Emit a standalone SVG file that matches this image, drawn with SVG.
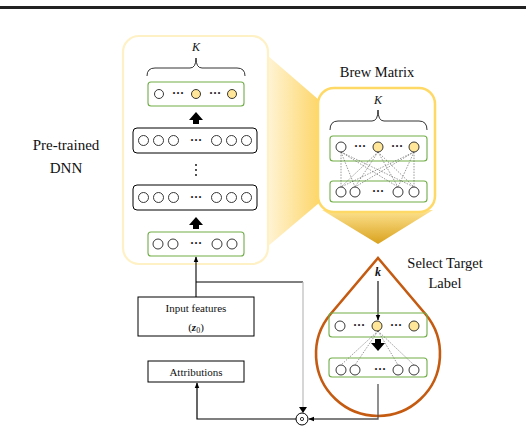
<svg xmlns="http://www.w3.org/2000/svg" width="526" height="426" viewBox="0 0 526 426">
<defs>
<linearGradient id="gL" x1="0" y1="0" x2="1" y2="0">
<stop offset="0" stop-color="#fff4d6"/><stop offset="1" stop-color="#fdd66a"/>
</linearGradient>
<linearGradient id="gB" x1="0" y1="0" x2="0" y2="1">
<stop offset="0" stop-color="#fee391"/><stop offset="1" stop-color="#d9a21e"/>
</linearGradient>
<marker id="ah" viewBox="0 0 10 10" refX="9" refY="5" markerWidth="6" markerHeight="6" orient="auto" markerUnits="userSpaceOnUse">
<path d="M0,1 L10,5 L0,9 Z" fill="#000"/>
</marker>
<path id="upArrow" d="M-7,4 L0,-4 L7,4 L3,4 L3,8 L-3,8 L-3,4 Z" fill="#000"/>
</defs>
<style>
text{font-family:"Liberation Serif","Times New Roman",serif;fill:#111}
.g{fill:none;stroke:#70ad47;stroke-width:1.1}
.b{fill:none;stroke:#000;stroke-width:1}
.c{fill:#fff;stroke:#222;stroke-width:0.9}
.y{fill:#ffe699;stroke:#222;stroke-width:0.9}
.d{stroke:#555;stroke-width:0.6;stroke-dasharray:1.5 1.3}
.br{fill:none;stroke:#000;stroke-width:0.8}
.w{fill:none;stroke:#000;stroke-width:1.1}
.dots{font-size:12px;font-weight:bold}
</style>

<rect x="0" y="6" width="526" height="3" fill="#222"/>

<g id="funnels">
<polygon points="267,55 319,100 319,203 267,247" fill="url(#gL)"/>
<polygon points="322,210 433,210 378,244" fill="url(#gB)"/>
</g>

<g id="pretrained-dnn" font-family="Liberation Serif, serif">
<rect x="123" y="36" width="145" height="228" rx="16" fill="#fff" stroke="#fff1c6" stroke-width="2.2"/>
<text x="196" y="51" font-size="12" font-style="italic" text-anchor="middle">K</text>
<path class="br" d="M147,76 Q147,68 155,68 L190,68 Q196,68 196,58 Q196,68 202,68 L237,68 Q245,68 245,76"/>
<rect class="g" x="148" y="82" width="96" height="24" rx="3"/>
<circle class="c" cx="159" cy="94" r="4.5"/>
<text class="dots" x="178" y="97" text-anchor="middle">···</text>
<circle class="y" cx="196" cy="94" r="4.5"/>
<text class="dots" x="215" y="97" text-anchor="middle">···</text>
<circle class="y" cx="232" cy="94" r="4.5"/>
<use href="#upArrow" x="196" y="116"/>
<rect class="b" x="133" y="128" width="124" height="25" rx="4"/>
<circle class="c" cx="143.5" cy="140.5" r="5"/><circle class="c" cx="158.5" cy="140.5" r="5"/><circle class="c" cx="173.5" cy="140.5" r="5"/>
<text class="dots" x="196" y="143.5" text-anchor="middle">···</text>
<circle class="c" cx="216.5" cy="140.5" r="5"/><circle class="c" cx="231.5" cy="140.5" r="5"/><circle class="c" cx="246.5" cy="140.5" r="5"/>
<circle cx="196" cy="165" r="0.9" fill="#000"/><circle cx="196" cy="170" r="0.9" fill="#000"/><circle cx="196" cy="175" r="0.9" fill="#000"/>
<rect class="b" x="133" y="185" width="124" height="25" rx="4"/>
<circle class="c" cx="143.5" cy="197.5" r="5"/><circle class="c" cx="158.5" cy="197.5" r="5"/><circle class="c" cx="173.5" cy="197.5" r="5"/>
<text class="dots" x="196" y="200.5" text-anchor="middle">···</text>
<circle class="c" cx="216.5" cy="197.5" r="5"/><circle class="c" cx="231.5" cy="197.5" r="5"/><circle class="c" cx="246.5" cy="197.5" r="5"/>
<use href="#upArrow" x="196" y="221"/>
<rect class="g" x="148" y="232" width="96" height="24" rx="3"/>
<circle class="c" cx="158" cy="244" r="5"/><circle class="c" cx="173" cy="244" r="5"/>
<text class="dots" x="196" y="247" text-anchor="middle">···</text>
<circle class="c" cx="217" cy="244" r="5"/><circle class="c" cx="232" cy="244" r="5"/>
</g>

<g id="label-pretrained" font-family="Liberation Serif, serif">
<text x="66" y="150" font-size="15" text-anchor="middle">Pre-trained</text>
<text x="66" y="173" font-size="15" text-anchor="middle">DNN</text>
</g>

<g id="brew-matrix" font-family="Liberation Serif, serif">
<text x="377" y="77" font-size="14.5" text-anchor="middle">Brew Matrix</text>
<rect x="318" y="88" width="117" height="124" rx="16" fill="#fff" stroke="#ffd966" stroke-width="2.5"/>
<text x="378" y="104" font-size="12" font-style="italic" text-anchor="middle">K</text>
<path class="br" d="M330,130 Q330,121 338,121 L372,121 Q378,121 378,110 Q378,121 384,121 L419,121 Q427,121 427,130"/>
<rect class="g" x="330" y="136" width="97" height="25" rx="3"/>
<rect class="g" x="330" y="181" width="97" height="21" rx="3"/>
<g class="d">
<line x1="341" y1="152" x2="341" y2="187"/><line x1="341" y1="152" x2="355" y2="187"/><line x1="341" y1="152" x2="398" y2="187"/><line x1="341" y1="152" x2="414" y2="187"/>
<line x1="378" y1="152" x2="341" y2="187"/><line x1="378" y1="152" x2="355" y2="187"/><line x1="378" y1="152" x2="398" y2="187"/><line x1="378" y1="152" x2="414" y2="187"/>
<line x1="414" y1="152" x2="341" y2="187"/><line x1="414" y1="152" x2="355" y2="187"/><line x1="414" y1="152" x2="398" y2="187"/><line x1="414" y1="152" x2="414" y2="187"/>
</g>
<circle class="c" cx="341" cy="147" r="5"/>
<text class="dots" x="360" y="150" text-anchor="middle">···</text>
<circle class="y" cx="378" cy="147" r="5"/>
<text class="dots" x="397" y="150" text-anchor="middle">···</text>
<circle class="y" cx="414" cy="147" r="5"/>
<circle class="c" cx="341" cy="192" r="5"/><circle class="c" cx="355" cy="192" r="5"/>
<text class="dots" x="378" y="195" text-anchor="middle">···</text>
<circle class="c" cx="398" cy="192" r="5"/><circle class="c" cx="414" cy="192" r="5"/>
</g>

<g id="select-target" font-family="Liberation Serif, serif">
<text x="445" y="268" font-size="14.5" text-anchor="middle">Select Target</text>
<text x="445" y="288" font-size="14.5" text-anchor="middle">Label</text>
<path d="M378,258 L425.4,314 A62,62 0 1 1 330.6,314 Z" fill="#fff" stroke="#c55a11" stroke-width="2.6"/>
<text x="378" y="276" font-size="12" font-style="italic" font-weight="bold" text-anchor="middle">k</text>
<line class="w" x1="378" y1="281" x2="378" y2="320" marker-end="url(#ah)"/>
<rect class="g" x="329" y="313" width="98" height="24" rx="3"/>
<g class="d">
<line x1="378" y1="331" x2="341" y2="365"/><line x1="378" y1="331" x2="355" y2="365"/><line x1="378" y1="331" x2="398" y2="365"/><line x1="378" y1="331" x2="414" y2="365"/>
</g>
<circle class="c" cx="340" cy="326" r="5"/>
<text class="dots" x="359" y="329" text-anchor="middle">···</text>
<circle class="y" cx="377" cy="326" r="5"/>
<text class="dots" x="396" y="329" text-anchor="middle">···</text>
<circle class="y" cx="414" cy="326" r="5"/>
<use href="#upArrow" transform="translate(378,347) rotate(180)"/>
<rect class="g" x="329" y="358" width="98" height="19" rx="3"/>
<circle class="c" cx="341" cy="370" r="5"/><circle class="c" cx="355" cy="370" r="5"/>
<text class="dots" x="380" y="373" text-anchor="middle">···</text>
<circle class="c" cx="398" cy="370" r="5"/><circle class="c" cx="414" cy="370" r="5"/>
</g>

<g id="input-features" font-family="Liberation Serif, serif">
<rect x="138" y="297" width="116" height="39" fill="#fff" stroke="#000" stroke-width="1"/>
<text x="196" y="312" font-size="11" text-anchor="middle">Input features</text>
<text x="196" y="331" font-size="11" text-anchor="middle">(<tspan font-style="italic" font-weight="bold">z</tspan><tspan font-size="8" dy="2">0</tspan><tspan dy="-2">)</tspan></text>
</g>

<g id="attributions" font-family="Liberation Serif, serif">
<rect x="148" y="361" width="96" height="21" fill="#fff" stroke="#000" stroke-width="1"/>
<text x="196" y="375.5" font-size="11" text-anchor="middle">Attributions</text>
</g>

<g id="odot">
<circle cx="302" cy="419" r="6" fill="#fff" stroke="#000" stroke-width="1"/>
<circle cx="302" cy="419" r="1.6" fill="none" stroke="#000" stroke-width="0.8"/>
</g>

<g id="connectors">
<line class="w" x1="196" y1="297" x2="196" y2="257" marker-end="url(#ah)"/>
<polyline points="196,282 303,282" fill="none" stroke="#000" stroke-width="1"/>
<line x1="303" y1="282" x2="303" y2="412" stroke="#bbb" stroke-width="1.2"/>
<path d="M299,407 L307,407 L303,413 Z" fill="#000"/>
<polyline points="378,384 378,419 309,419" fill="none" stroke="#555" stroke-width="1.3" marker-end="url(#ah)"/>
<polyline points="296,419 197,419 197,383" fill="none" stroke="#000" stroke-width="1.2" marker-end="url(#ah)"/>
</g>
</svg>
